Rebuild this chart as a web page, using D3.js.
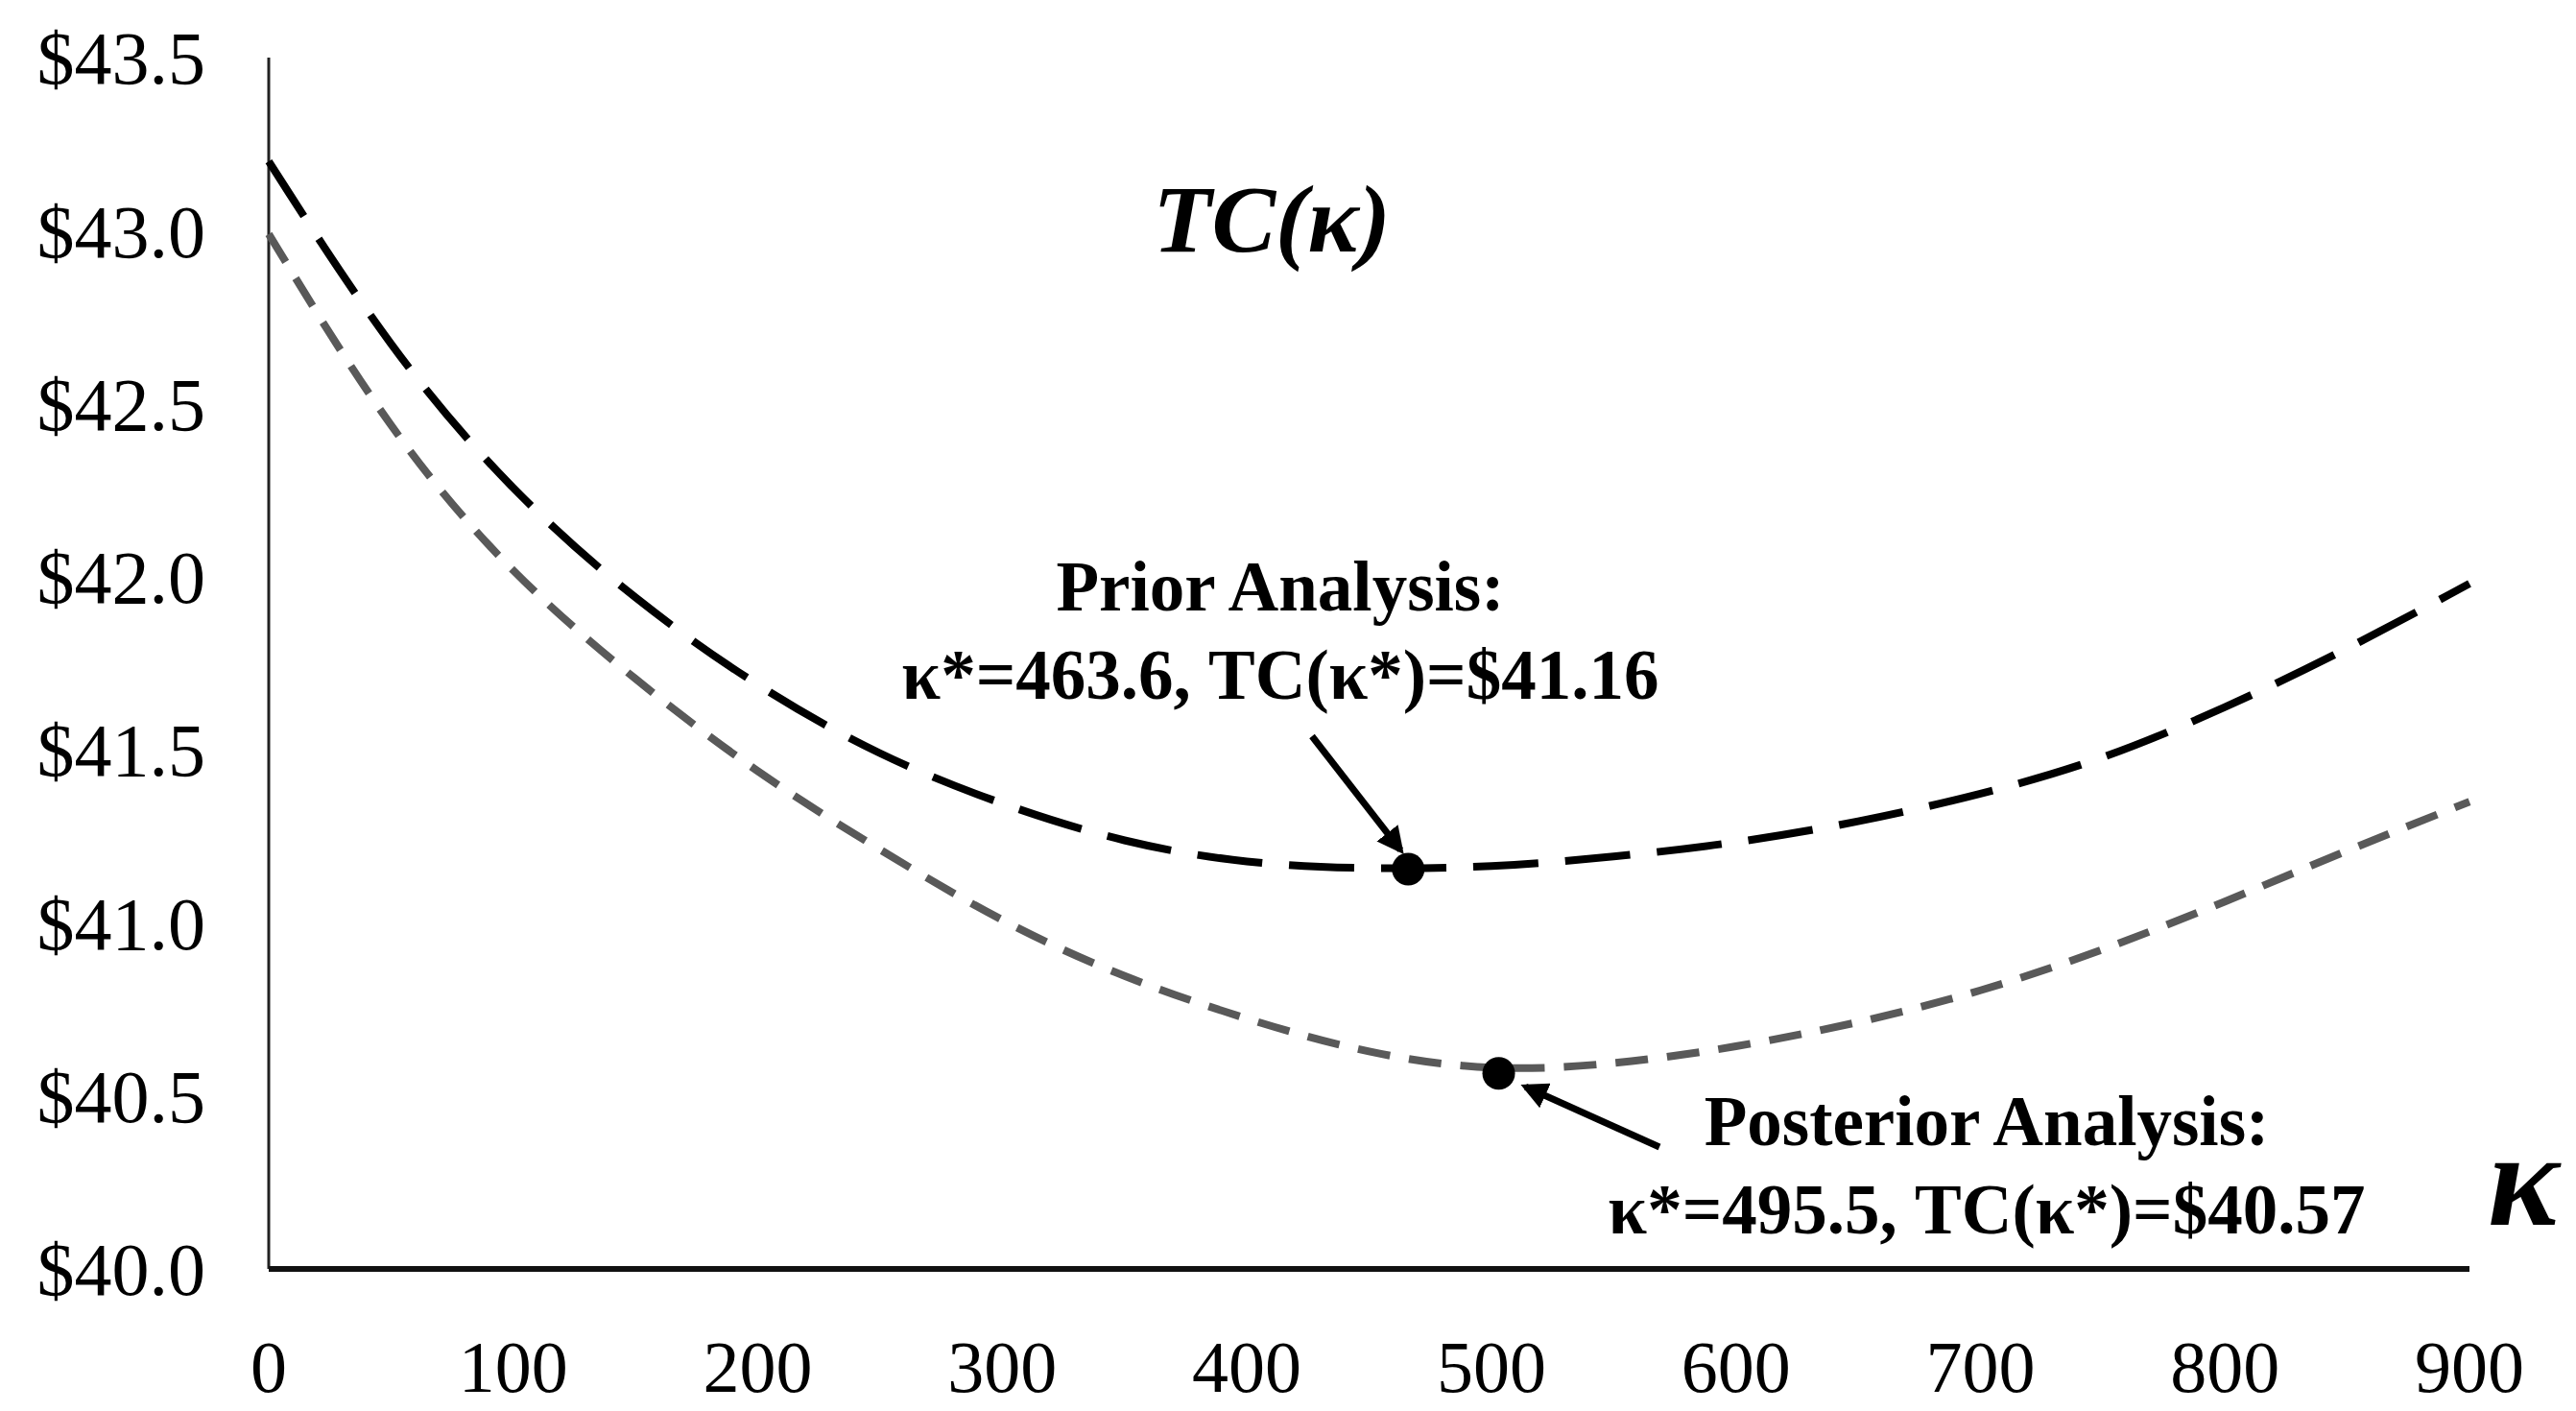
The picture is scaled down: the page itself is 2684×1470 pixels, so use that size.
<!DOCTYPE html>
<html>
<head>
<meta charset="utf-8">
<script src="https://cdn.jsdelivr.net/npm/d3@7"></script>
<style>
  body { margin: 0; background: #fff; }
  text { font-family: "Liberation Serif", "Times New Roman", serif; }
</style>
</head>
<body>
<svg id="chart" width="2684" height="1470"></svg>
<script>
// values
const kappa = [0, 50, 100, 150, 200, 250, 300, 350, 400, 450, 500, 550, 600, 650, 700, 750, 800, 850, 900];
const priorTC = [43.20, 42.65, 42.24, 41.93, 41.68, 41.48, 41.34, 41.23, 41.17, 41.155, 41.16, 41.19, 41.23, 41.29, 41.37, 41.47, 41.62, 41.79, 41.98];
const posteriorTC = [42.99, 42.41, 42.00, 41.70, 41.43, 41.21, 41.00, 40.84, 40.72, 40.62, 40.57, 40.59, 40.64, 40.71, 40.80, 40.92, 41.06, 41.21, 41.35];
const yTicks = [40.0, 40.5, 41.0, 41.5, 42.0, 42.5, 43.0, 43.5];
const xTicks = [0, 100, 200, 300, 400, 500, 600, 700, 800, 900];
const optima = [
  { k: 466, tc: 41.155, lines: ["Prior Analysis:", "κ*=463.6, TC(κ*)=$41.16"] },
  { k: 503, tc: 40.565, lines: ["Posterior Analysis:", "κ*=495.5, TC(κ*)=$40.57"] }
];

const svg = d3.select("#chart");
const margin = { top: 60, right: 111, bottom: 148, left: 280 };
const width = 2684, height = 1470;

const x = d3.scaleLinear().domain([0, 900]).range([margin.left, width - margin.right]);
const y = d3.scaleLinear().domain([40, 43.5]).range([height - margin.bottom, margin.top]);

// axes
svg.append("line")
  .attr("x1", x(0)).attr("x2", x(0))
  .attr("y1", y(43.5)).attr("y2", y(40))
  .attr("stroke", "#222").attr("stroke-width", 3);
svg.append("line")
  .attr("x1", x(0)).attr("x2", x(900))
  .attr("y1", y(40)).attr("y2", y(40))
  .attr("stroke", "#111").attr("stroke-width", 6);

svg.selectAll(".ytick").data(yTicks).join("text")
  .attr("class", "ytick")
  .attr("x", 214).attr("y", d => y(d))
  .attr("dy", "0.35em")
  .attr("text-anchor", "end")
  .attr("font-size", 78)
  .text(d => "$" + d.toFixed(1));

svg.selectAll(".xtick").data(xTicks).join("text")
  .attr("class", "xtick")
  .attr("x", d => x(d)).attr("y", 1450)
  .attr("text-anchor", "middle")
  .attr("font-size", 76)
  .text(d => d);

// curves
const line = d3.line().curve(d3.curveBasis);
svg.append("path")
  .attr("d", line(kappa.map((k, i) => [x(k), y(posteriorTC[i])])))
  .attr("fill", "none").attr("stroke", "#595959")
  .attr("stroke-width", 8).attr("stroke-dasharray", "34 20");
svg.append("path")
  .attr("d", line(kappa.map((k, i) => [x(k), y(priorTC[i])])))
  .attr("fill", "none").attr("stroke", "#000")
  .attr("stroke-width", 8).attr("stroke-dasharray", "68 28");

svg.selectAll(".opt").data(optima).join("circle")
  .attr("class", "opt")
  .attr("cx", d => x(d.k)).attr("cy", d => y(d.tc))
  .attr("r", 17).attr("fill", "#000");

// arrows
svg.append("defs").append("marker")
  .attr("id", "arrow").attr("viewBox", "0 0 10 10")
  .attr("refX", 8).attr("refY", 5)
  .attr("markerWidth", 4).attr("markerHeight", 4)
  .attr("orient", "auto")
  .append("path").attr("d", "M0,0 L10,5 L0,10 Z").attr("fill", "#000");

svg.append("line")
  .attr("x1", 1367).attr("y1", 767)
  .attr("x2", x(optima[0].k) - 8).attr("y2", y(optima[0].tc) - 20)
  .attr("stroke", "#000").attr("stroke-width", 7).attr("marker-end", "url(#arrow)");
svg.append("line")
  .attr("x1", 1729).attr("y1", 1195)
  .attr("x2", x(optima[1].k) + 28).attr("y2", y(optima[1].tc) + 14)
  .attr("stroke", "#000").attr("stroke-width", 7).attr("marker-end", "url(#arrow)");

// annotations
const labelPos = [{ cx: 1334, y: 636 }, { cx: 2070, y: 1193 }];
optima.forEach((d, i) => {
  const t = svg.append("text")
    .attr("x", labelPos[i].cx).attr("y", labelPos[i].y)
    .attr("text-anchor", "middle")
    .attr("font-size", 73).attr("font-weight", "bold");
  d.lines.forEach((s, j) => {
    t.append("tspan").attr("x", labelPos[i].cx).attr("dy", j === 0 ? 0 : 92).text(s);
  });
});

svg.append("text")
  .attr("x", 1325).attr("y", 262)
  .attr("text-anchor", "middle")
  .attr("font-size", 100).attr("font-weight", "bold").attr("font-style", "italic")
  .text("TC(κ)");

svg.append("text")
  .attr("x", 2592).attr("y", 1276)
  .attr("font-size", 140).attr("font-weight", "bold").attr("font-style", "italic")
  .text("κ");
</script>
</body>
</html>
